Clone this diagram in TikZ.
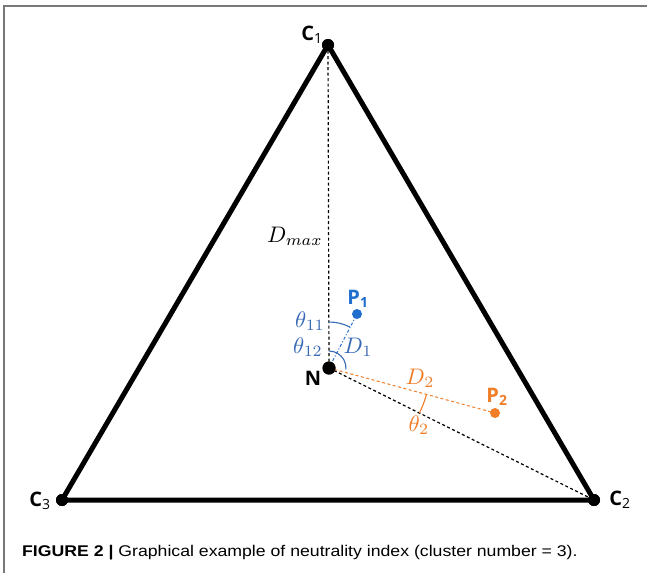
\documentclass[tikz,border=0pt]{standalone}
\usepackage{fontspec}
\setmainfont{Liberation Sans}
\newfontfamily\lblfont{Open Sans}
\usetikzlibrary{calc}
\definecolor{pblue}{RGB}{32,110,205}
\definecolor{tblue}{RGB}{55,105,180}
\definecolor{porange}{RGB}{240,125,40}
\definecolor{framegray}{RGB}{120,120,120}
\newcommand{\mylbl}[1]{\scalebox{2.25}{$#1$}}
\begin{document}
\begin{tikzpicture}[x=1pt,y=-1pt,
  vdot/.style={circle,fill=black,inner sep=0pt,minimum size=12pt},
  pdot/.style={circle,inner sep=0pt,minimum size=10pt},
  tri/.style={line width=5pt,line join=round},
  dash1/.style={dash pattern=on 3pt off 2.5pt,line width=1.2pt},
  vlabel/.style={font=\lblfont\fontsize{20}{20}\selectfont\bfseries,inner sep=0pt},
  mlabel/.style={inner sep=0pt}]
\useasboundingbox (0,0) rectangle (647,573);
\fill[white] (0,0) rectangle (647,573);
\draw[framegray,line width=1.2pt] (4,573) -- (4,6) -- (647,6);
% vertices
\node[vdot] (C1) at (328,45) {};
\node[vdot] (C2) at (594,500) {};
\node[vdot] (C3) at (62,500) {};
\node[vdot,minimum size=13pt] (N) at (329,368) {};
\node[pdot,fill=pblue] (P1) at (357,314) {};
\node[pdot,fill=porange] (P2) at (495,413) {};
\coordinate (Nc) at (329,368);
% dashed guides
\draw[dash1] (C1.center) -- (Nc);
\draw[dash1] (Nc) -- (C2.center);
\draw[pblue,dash pattern=on 3pt off 2pt on 1pt off 2pt,line width=1pt] (Nc) -- (P1.center);
\draw[dash1,porange,line width=1pt] (Nc) -- (P2.center);
% triangle
\draw[tri] (C1.center) -- (C2.center) -- (C3.center) -- cycle;
\node[vdot] at (C1) {};
\node[vdot] at (C2) {};
\node[vdot] at (C3) {};
\node[vdot,minimum size=13pt] at (N) {};
% angle arcs (y axis points down: angles measured clockwise on screen)
\draw[tblue,line width=1.1pt] ($(Nc)+(0,-46)$) arc[start angle=-90,end angle=-63,radius=46];
\draw[tblue,line width=1.1pt] ($(Nc)+(0,-17)$) arc[start angle=-90,end angle=5,radius=17];
\draw[porange,line width=1.1pt] ($(Nc)+({101*cos(15.2)},{101*sin(15.2)})$) arc[start angle=15.2,end angle=26.5,radius=101];
% labels
\node[vlabel] (lC1) at (312,35) {C\textsubscript{\mdseries 1}};
\node[vlabel] (lC2) at (620,500) {C\textsubscript{\mdseries 2}};
\node[vlabel] (lC3) at (40,501) {C\textsubscript{\mdseries 3}};
\node[vlabel] (lN) at (313,378) {N};
\node[vlabel,text=pblue] (lP1) at (358,299) {P\textsubscript{1}};
\node[vlabel,text=porange] (lP2) at (497,397) {P\textsubscript{2}};
\node[mlabel] (lD) at (295,236) {\mylbl{D_{max}}};
\node[mlabel,text=tblue] (lt11) at (310,321) {\mylbl{\theta_{11}}};
\node[mlabel,text=tblue] (lt12) at (308,347) {\mylbl{\theta_{12}}};
\node[mlabel,text=tblue] (lD1) at (358,347) {\mylbl{D_1}};
\node[mlabel,text=porange] (lD2) at (420,378) {\mylbl{D_2}};
\node[mlabel,text=porange] (lt2) at (419,425) {\mylbl{\theta_2}};
% caption
\node[anchor=base west,inner sep=0pt,font=\fontsize{15.5}{15.5}\selectfont] (cap) at (22,556) {\scalebox{1.14}[1]{\textbf{FIGURE 2 |} Graphical example of neutrality index (cluster number = 3).}};
\end{tikzpicture}
\end{document}
